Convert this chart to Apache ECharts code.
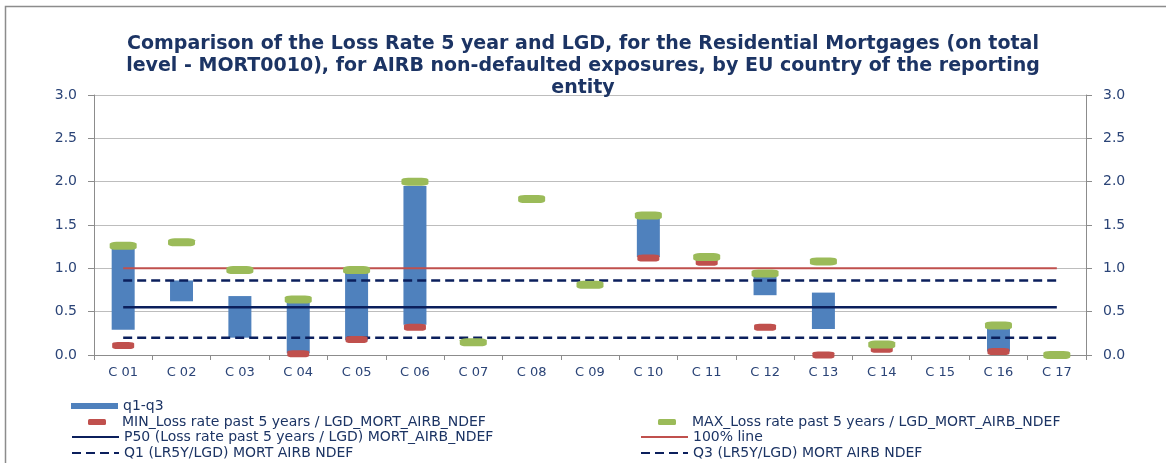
<!DOCTYPE html>
<html>
<head>
<meta charset="utf-8">
<style>
  html, body { margin: 0; padding: 0; background: #fff; }
  #chart { width: 1166px; height: 463px; }
</style>
<script src="https://cdn.jsdelivr.net/npm/echarts@6/dist/echarts.min.js"></script>
</head>
<body>
<div id="chart"></div>
<script>
// Countries (anonymised reporting-entity codes)
const categories = ['C 01', 'C 02', 'C 03', 'C 04', 'C 05', 'C 06', 'C 07', 'C 08', 'C 09',
                    'C 10', 'C 11', 'C 12', 'C 13', 'C 14', 'C 15', 'C 16', 'C 17'];

// Interquartile range of LR5Y / LGD per country (null = not reported)
const q1Values = [0.29, 0.62, 0.20, 0.02, 0.17, 0.35, null, null, null, 1.13, null, 0.69, 0.30, null, null, 0.04, null];
const q3Values = [1.23, 0.86, 0.68, 0.60, 0.95, 1.95, null, null, null, 1.58, null, 0.90, 0.72, null, null, 0.31, null];

// Minimum and maximum ratios per country
const minValues = [0.11, null, null, 0.015, 0.18, 0.32, null, null, null, 1.12, 1.07, 0.32, 0.0, 0.065, null, 0.04, null];
const maxValues = [1.26, 1.30, 0.98, 0.64, 0.98, 2.00, 0.146, 1.80, 0.81, 1.61, 1.13, 0.94, 1.08, 0.12, null, 0.34, 0.0];

// EU-wide reference levels
const p50Level = 0.55;
const q1Level = 0.20;
const q3Level = 0.86;
const fullLevel = 1.0;

// Value-axis tick labels
const yTicks = ['0.0', '0.5', '1.0', '1.5', '2.0', '2.5', '3.0'];

const NAVY = '#1c3464';
const TEXT = '#2b4477';
const BLUE = '#4f81bd';
const RED = '#c0504d';
const GREEN = '#9bbb59';
const DARK = '#0b1f5c';
const FONT = 'DejaVu Sans, sans-serif';

const flat = v => categories.map(() => v);
const spread = q1Values.map((v, i) => (v == null || q3Values[i] == null) ? null : +(q3Values[i] - v).toFixed(3));

const chart = echarts.init(document.getElementById('chart'), null, { renderer: 'canvas' });

const valueAxis = (pos) => ({
  type: 'value',
  position: pos,
  min: 0, max: 3, interval: 0.5,
  axisLine: { show: true, lineStyle: { color: '#8c8c8c', width: 1 } },
  axisTick: { show: true, length: 6, lineStyle: { color: '#8c8c8c' } },
  splitLine: { show: pos === 'left', lineStyle: { color: '#bdbdbd', width: 1 } },
  axisLabel: {
    color: TEXT, fontFamily: FONT, fontSize: 14, margin: 17,
    formatter: v => yTicks[Math.round(v / 0.5)]
  }
});

const legendText = { color: NAVY, fontFamily: FONT, fontSize: 14 };

// line legends: show only the stroke, hide the marker dot
const lineLegend = (name, left, top) => ({
  data: [name], left: left, top: top, itemWidth: 47, itemHeight: 6,
  selectedMode: false, itemStyle: { opacity: 0 },
  textStyle: Object.assign({}, legendText)
});
const dotLegend = (name, left, top) => ({
  data: [name], left: left, top: top, itemWidth: 18, itemHeight: 6,
  selectedMode: false, textStyle: Object.assign({ padding: [0, 0, 0, 11] }, legendText)
});

chart.setOption({
  animation: false,
  backgroundColor: '#ffffff',
  title: {
    text: 'Comparison of the Loss Rate 5 year and LGD, for the Residential Mortgages (on total\nlevel - MORT0010), for AIRB non-defaulted exposures, by EU country of the reporting\nentity',
    left: 'center', top: 28,
    textStyle: { color: NAVY, fontFamily: FONT, fontSize: 19, fontWeight: 'bold', lineHeight: 22 }
  },
  graphic: [{
    type: 'rect', left: 3, top: 4, silent: true,
    shape: { width: 1170, height: 470 },
    style: { fill: 'none', stroke: '#8c8c8c', lineWidth: 1.5 }
  }],
  legend: [
    { data: ['q1-q3'], left: 66, top: 394, itemWidth: 47, itemHeight: 6, icon: 'rect', selectedMode: false, textStyle: Object.assign({}, legendText) },
    dotLegend('MIN_Loss rate past 5 years / LGD_MORT_AIRB_NDEF', 83, 410),
    dotLegend('MAX_Loss rate past 5 years / LGD_MORT_AIRB_NDEF', 653, 410),
    lineLegend('P50 (Loss rate past 5 years / LGD) MORT_AIRB_NDEF', 66, 425),
    lineLegend('100% line', 635, 425),
    lineLegend('Q1 (LR5Y/LGD) MORT AIRB NDEF', 66, 441),
    lineLegend('Q3 (LR5Y/LGD) MORT AIRB NDEF', 635, 441)
  ],
  grid: { left: 94, right: 80, top: 95, bottom: 108, containLabel: false },
  xAxis: {
    type: 'category',
    data: categories,
    boundaryGap: true,
    axisLine: { show: true, lineStyle: { color: '#8c8c8c' } },
    axisTick: { show: true, length: 5, interval: 0, lineStyle: { color: '#8c8c8c' } },
    axisLabel: { color: TEXT, fontFamily: FONT, fontSize: 13, margin: 11, interval: 0 }
  },
  yAxis: [valueAxis('left'), valueAxis('right')],
  series: [
    {
      name: 'base', type: 'bar', stack: 'iqr', data: q1Values, barWidth: 23,
      itemStyle: { color: 'transparent' }, z: 2, silent: true
    },
    {
      name: 'q1-q3', type: 'bar', stack: 'iqr', data: spread, barWidth: 23,
      itemStyle: { color: BLUE }, z: 2
    },
    {
      name: 'P50 (Loss rate past 5 years / LGD) MORT_AIRB_NDEF', type: 'line', data: flat(p50Level),
      symbol: 'none', lineStyle: { color: DARK, width: 2.5 }, itemStyle: { color: DARK }, z: 3
    },
    {
      name: '100% line', type: 'line', data: flat(fullLevel),
      symbol: 'none', lineStyle: { color: RED, width: 2 }, itemStyle: { color: RED }, z: 3
    },
    {
      name: 'Q1 (LR5Y/LGD) MORT AIRB NDEF', type: 'line', data: flat(q1Level),
      symbol: 'none', lineStyle: { color: DARK, width: 2.5, type: [9, 5] }, itemStyle: { color: DARK }, z: 3
    },
    {
      name: 'Q3 (LR5Y/LGD) MORT AIRB NDEF', type: 'line', data: flat(q3Level),
      symbol: 'none', lineStyle: { color: DARK, width: 2.5, type: [9, 5] }, itemStyle: { color: DARK }, z: 3
    },
    {
      name: 'MIN_Loss rate past 5 years / LGD_MORT_AIRB_NDEF', type: 'scatter', data: minValues,
      symbol: 'roundRect', symbolSize: [22, 7], itemStyle: { color: RED, opacity: 1 }, z: 4
    },
    {
      name: 'MAX_Loss rate past 5 years / LGD_MORT_AIRB_NDEF', type: 'scatter', data: maxValues,
      symbol: 'roundRect', symbolSize: [27, 8], itemStyle: { color: GREEN, opacity: 1 }, z: 5
    }
  ]
});
</script>
</body>
</html>
